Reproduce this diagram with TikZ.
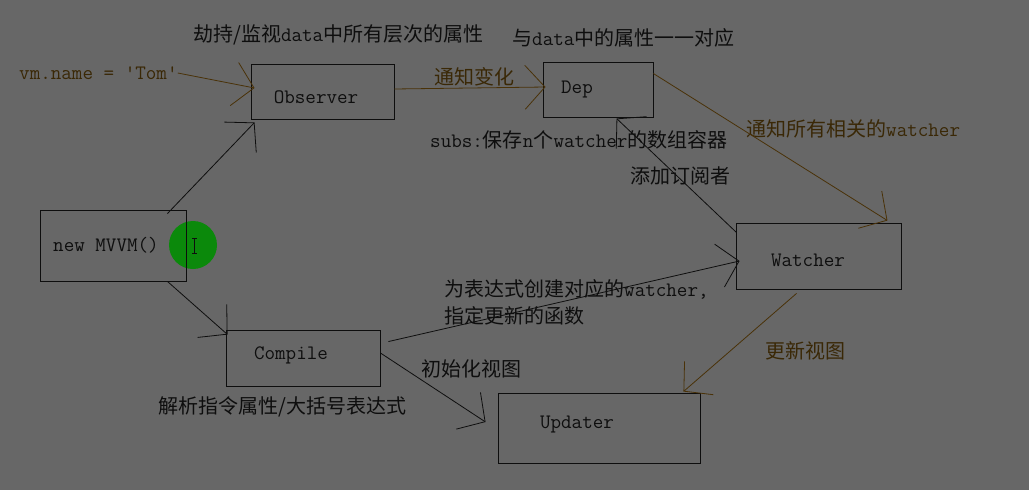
\documentclass[tikz,border=0pt]{standalone}
\usepackage{fontspec}
\newfontfamily\cjkfont{Noto Sans CJK SC}
\usetikzlibrary{arrows.meta,calc}
\newcommand{\zhx}[1]{{\cjkfont\fontsize{20}{24}\selectfont #1}}
\newcommand{\enx}[1]{{\ttfamily\fontsize{20.5}{24}\selectfont #1}}
\definecolor{bgc}{HTML}{676767}
\definecolor{ink}{HTML}{0E0E0E}
\definecolor{brn}{HTML}{3A2806}
\definecolor{brnline}{HTML}{4A3208}
\definecolor{grn}{HTML}{0B890B}
\begin{document}
\begin{tikzpicture}[x=1pt,y=1pt,
  box/.style={draw=ink,line width=0.9pt,inner sep=0pt},
  lbl/.style={inner sep=0pt,text=ink},
  blbl/.style={inner sep=0pt,text=brn},
  conn/.style={draw=ink,line width=0.8pt,-{Straight Barb[length=20pt,width=44pt,line width=0.8pt]}},
  bconn/.style={conn,draw=brnline}]
\useasboundingbox (0,0) rectangle (1029,-490);
\fill[bgc] (0,0) rectangle (1029,-490);
% cursor highlight
\fill[grn] (193,-245) circle (24);
\draw[ink,line width=0.7pt] (194.5,-238) -- (194.5,-253) (192,-238) -- (197,-238) (192,-253) -- (197,-253);
% boxes
\node[box,minimum width=143,minimum height=55] (obs) at (322.5,-91.5) {};
\node[box,minimum width=110,minimum height=55] (dep) at (598,-89.5) {};
\node[box,minimum width=165,minimum height=66] (wat) at (818.5,-256) {};
\node[box,minimum width=202,minimum height=70] (upd) at (599,-428) {};
\node[box,minimum width=146,minimum height=71] (mvvm) at (113,-245.5) {};
\node[box,minimum width=154,minimum height=56] (comp) at (303,-358) {};
% box texts
\node[lbl] (obsT) at (316,-97) {\enx{Observer}};
\node[lbl] (depT) at (577,-90) {\enx{Dep}};
\node[lbl] (watT) at (808,-260) {\enx{Watcher}};
\node[lbl] (mvvmT) at (106,-245) {\enx{new MVVM()}};
\node[lbl] (compT) at (291,-355) {\enx{Compile}};
\node[lbl] (updT) at (577,-425) {\enx{Updater}};
% free texts
\node[lbl,anchor=west] (t1) at (193,-35) {\zhx{劫持/监视}\enx{data}\zhx{中所有层次的属性}};
\node[lbl,anchor=west] (t2) at (512,-38) {\zhx{与}\enx{data}\zhx{中的属性一一对应}};
\node[blbl,anchor=west] (vm) at (19,-73) {\enx{vm.name = 'Tom'}};
\node[blbl,anchor=west] (t3) at (434,-77) {\zhx{通知变化}};
\node[lbl,anchor=west] (t4) at (430,-140) {\enx{subs:}\zhx{保存}\enx{n}\zhx{个}\enx{watcher}\zhx{的数组容器}};
\node[blbl,anchor=west] (t5) at (746,-129) {\zhx{通知所有相关的}\enx{watcher}};
\node[lbl,anchor=west] (t6) at (630,-176) {\zhx{添加订阅者}};
\node[lbl,anchor=west] (t7) at (444,-289) {\zhx{为表达式创建对应的}\enx{watcher,}};
\node[lbl,anchor=west] (t8) at (444,-316) {\zhx{指定更新的函数}};
\node[lbl,anchor=west] (t9) at (421,-369) {\zhx{初始化视图}};
\node[lbl,anchor=west] (t10) at (158,-407) {\zhx{解析指令属性/大括号表达式}};
\node[blbl,anchor=west] (t11) at (765,-351) {\zhx{更新视图}};
% connectors
\draw[bconn] (vm.east) -- ($(obs.west)+(4,3.5)$);
\draw[conn] ($(mvvm.north east)+(-19,-4)$) -- ($(obs.south west)+(4,-3)$);
\draw[conn] ($(mvvm.south east)+(-19,0)$) -- ($(comp.north west)+(2,-5)$);
\draw[bconn] ($(obs.east)+(0,2.5)$) -- ($(dep.west)+(3,2.5)$);
\draw[bconn] ($(dep.north east)+(0,-12)$) -- ($(wat.north east)+(-14,2)$);
\draw[conn] ($(wat.north west)+(1,-10)$) -- ($(dep.south west)+(74,-1)$);
\draw[conn] ($(comp.north east)+(8,-12)$) -- ($(wat.west)+(4,-5)$);
\draw[conn] ($(comp.east)+(0,5)$) -- ($(upd.west)+(-12,6)$);
\draw[bconn] ($(wat.south)+(-22,-4)$) -- ($(upd.north east)+(-17,1)$);
\end{tikzpicture}
\end{document}
